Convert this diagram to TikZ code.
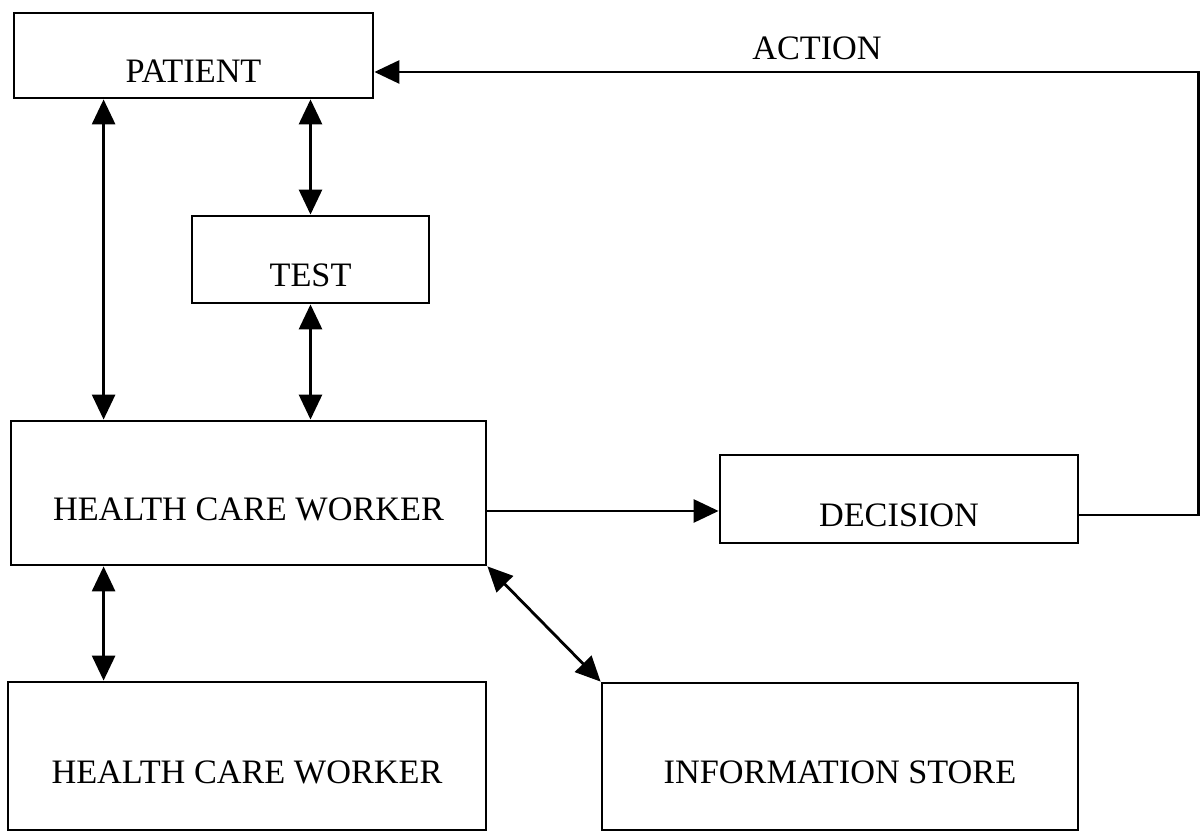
\documentclass[tikz,border=0pt]{standalone}
\usepackage{fontspec}
\setmainfont{Liberation Serif}
\usetikzlibrary{positioning,arrows.meta,calc}

\begin{document}
\begin{tikzpicture}[
  font=\fontsize{19.5}{23}\selectfont,
  >={Triangle[length=5mm,width=4.6mm]},
  line width=1.6pt,
  blk/.style={draw,align=center,inner xsep=2pt,inner ysep=0pt,
              text height=11mm,text depth=0pt},
  flow/.style={->},
  both/.style={<->},
  lbl/.style={inner sep=1pt},
]
\useasboundingbox (0,0) rectangle (24.02,16.64);
% ---------- boxes ----------
\node[blk,minimum width=71.8mm,minimum height=17mm] (patient) at (3.87,15.53) {PATIENT};
\node[blk,minimum width=47.4mm,minimum height=17.4mm] (test) at (6.21,11.45) {TEST};
\node[blk,minimum width=95mm,minimum height=28.8mm] (hcw) at (4.97,6.78) {HEALTH CARE WORKER};
\node[blk,minimum width=71.6mm,minimum height=17.6mm] (decision) at (17.98,6.66) {DECISION};
\node[blk,minimum width=95.6mm,minimum height=29.6mm] (hcw2) at (4.94,1.52) {HEALTH CARE WORKER};
\node[blk,minimum width=95.2mm,minimum height=29.4mm] (info) at (16.80,1.51) {INFORMATION STORE};
\node[lbl] (action) at (16.34,15.68) {ACTION};
% ---------- connectors ----------
\draw[both] ([xshift=18.2mm]patient.south west) -- ([xshift=18.2mm]patient.south west |- hcw.north);
\draw[both] (test.north) -- (test.north |- patient.south);
\draw[both] (test.south) -- (test.south |- hcw.north);
\draw[both] ([xshift=18.8mm]hcw.south west) -- ([xshift=18.8mm]hcw.south west |- hcw2.north);
\draw[both] (hcw.south east) -- (info.north west);
\draw[flow] ([yshift=-2.4mm]decision.west -| hcw.east) -- ([yshift=-2.4mm]decision.west);
% decision loops back round to the patient
\draw[flow] ([yshift=-3.2mm]decision.east) -- ++(2.38,0) |- ([yshift=-3.3mm]patient.east);
\end{tikzpicture}
\end{document}
